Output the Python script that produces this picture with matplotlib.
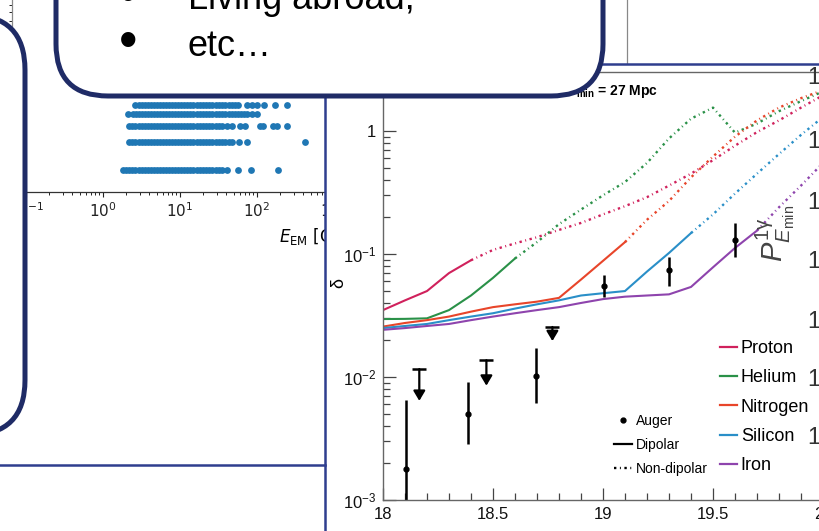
import matplotlib
matplotlib.use('Agg')
import matplotlib.pyplot as plt
from matplotlib.patches import FancyBboxPatch, Rectangle
from matplotlib.lines import Line2D
from matplotlib.ticker import MultipleLocator, FixedLocator, FixedFormatter, FormatStrFormatter, LogLocator, NullFormatter

plt.rcParams['font.family'] = ['Liberation Sans', 'DejaVu Sans']
plt.rcParams['mathtext.fontset'] = 'custom'
plt.rcParams['mathtext.rm'] = 'Liberation Sans'
plt.rcParams['mathtext.it'] = 'Liberation Sans:italic'
plt.rcParams['mathtext.bf'] = 'Liberation Sans:bold'
plt.rcParams['mathtext.default'] = 'regular'

W, H = 820, 531

# ---- anisotropy amplitude vs energy ----
lg_e = [18.0, 18.1, 18.2, 18.3, 18.4, 18.5, 18.6, 18.7, 18.8, 18.9, 19.0,
        19.1, 19.2, 19.3, 19.4, 19.5, 19.6, 19.7, 19.8, 19.9, 20.0]

species = ['Proton', 'Helium', 'Nitrogen', 'Silicon', 'Iron']
colors = ['#d0215c', '#2a9148', '#e8452a', '#2a8fc8', '#8e44ad']

delta_proton = [0.035, 0.042, 0.050, 0.070, 0.089, 0.108, 0.122, 0.137, 0.157, 0.179, 0.21,
                0.245, 0.29, 0.36, 0.45, 0.58, 0.76, 0.98, 1.22, 1.55, 1.95]
delta_helium = [0.0296, 0.0297, 0.030, 0.035, 0.046, 0.064, 0.092, 0.125, 0.175, 0.23, 0.30,
                0.385, 0.55, 0.87, 1.26, 1.55, 0.97, 1.15, 1.45, 1.75, 2.1]
delta_nitrogen = [0.0257, 0.0275, 0.029, 0.031, 0.034, 0.037, 0.039, 0.041, 0.044, 0.062, 0.088,
                  0.125, 0.19, 0.27, 0.42, 0.62, 0.90, 1.22, 1.55, 1.85, 2.15]
delta_silicon = [0.025, 0.026, 0.027, 0.029, 0.031, 0.033, 0.036, 0.039, 0.042, 0.046, 0.048,
                 0.050, 0.072, 0.102, 0.148, 0.21, 0.31, 0.45, 0.65, 0.93, 1.3]
delta_iron = [0.0242, 0.025, 0.026, 0.027, 0.029, 0.031, 0.033, 0.035, 0.037, 0.040, 0.043,
              0.045, 0.046, 0.047, 0.054, 0.078, 0.112, 0.155, 0.24, 0.36, 0.55]
# last energy where the dipolar (solid) description still holds
dipolar_max = [18.4, 18.6, 19.1, 19.4, 19.7]

auger_lg_e = [18.105, 18.387, 18.695, 19.005, 19.30, 19.60]
auger_delta = [0.0018, 0.0050, 0.0102, 0.055, 0.074, 0.13]
auger_hi = [0.0065, 0.0091, 0.0172, 0.067, 0.095, 0.179]
auger_lo = [0.0007, 0.00285, 0.0062, 0.045, 0.055, 0.095]

ul_lg_e = [18.165, 18.47, 18.77]
ul_delta = [0.0116, 0.0137, 0.0255]
ul_tip = [0.0064, 0.0085, 0.0196]

# ---- photon-energy scatter (GeV) per row ----
row1_e = [1.8, 2.0, 2.2, 2.4, 2.6, 2.9, 3.2, 3.5, 3.8, 4.2, 4.6, 5.0, 5.5, 6.0, 6.6, 7.2,
          7.9, 8.7, 9.5, 10.4, 11.4, 12.5, 13.7, 15, 16.5, 18, 20, 22, 24, 26, 29, 32, 35,
          41, 57, 84, 187]
row2_e = [2.2, 2.4, 2.6, 2.9, 3.2, 3.5, 3.8, 4.2, 4.6, 5.0, 5.5, 6.0, 6.6, 7.2, 7.9, 8.7,
          9.5, 10.4, 11.4, 12.5, 13.7, 15, 16.5, 18, 20, 22, 24, 26, 29, 32, 35, 39, 43, 47,
          58, 74, 420]
row3_e = [2.2, 2.4, 2.6, 2.9, 3.2, 3.5, 3.8, 4.2, 4.6, 5.0, 5.5, 6.0, 6.6, 7.2, 7.9, 8.7,
          9.5, 10.4, 11.4, 12.5, 13.7, 15, 16.5, 18, 20, 22, 24, 26, 29, 32, 35,
          41, 47, 60, 70, 110, 120, 162, 182, 245]
row4_e = [2.1, 2.45, 2.7, 2.9, 3.2, 3.5, 3.8, 4.2, 4.6, 5.0, 5.5, 6.0, 6.6, 7.2, 7.9, 8.7,
          9.5, 10.4, 11.4, 12.5, 13.7, 15, 16.5, 18, 20, 22, 24, 26, 29, 32, 35, 39, 43, 47,
          52, 57, 63, 68, 74, 86, 100]
row5_e = [2.6, 2.9, 3.2, 3.5, 3.8, 4.2, 4.6, 5.0, 5.5, 6.0, 6.6, 7.2, 7.9, 8.7, 9.5, 10.4,
          11.4, 12.5, 13.7, 15, 16.5, 18, 20, 22, 24, 26, 29, 32, 35, 39, 43, 47, 52, 56,
          74, 86, 100, 123, 170, 245]
scatter_rows = [row1_e, row2_e, row3_e, row4_e, row5_e]
row_levels = [1, 2, 3, 4, 5]

NONDIP = (0, (1.0, 1.5, 0.4, 1.5))
NAVY = '#1f2b66'
PANEL = '#2f3e8e'


def box(x0, y0, x1, y1):
    # pixel box (y measured from the top) -> figure fraction rect
    return [x0 / W, 1 - y1 / H, (x1 - x0) / W, (y1 - y0) / H]


fig = plt.figure(figsize=(W / 100, H / 100), dpi=100)

# scatter plot in the background
ax_s = fig.add_axes(box(12, -50, 627, 192), zorder=1)
for lvl, row in zip(row_levels, scatter_rows):
    ax_s.scatter(row, [lvl] * len(row), s=24, color='#1f77b4', linewidths=0)
ax_s.set_xscale('log')
ax_s.set_yscale('log')
ax_s.set_xlim(0.066, 6.4e6)
ax_s.set_ylim(0.58, 232)
ax_s.set_xlabel(r'$\mathit{E}_{\mathrm{EM}}$ [GeV]', fontsize=12,
                math_fontfamily='dejavusans', family='DejaVu Sans')
ax_s.tick_params(labelsize=11, colors='#222')
ax_s.tick_params(axis='y', labelleft=False)
for sp in ax_s.spines.values():
    sp.set_color('#888')
    sp.set_linewidth(0.9)
ax_s.spines['bottom'].set_color('#333')
for t in ax_s.get_xticklabels():
    t.set_math_fontfamily('dejavusans')
    t.set_family('DejaVu Sans')

# panel frames
ax_u = fig.add_axes([0, 0, 1, 1], zorder=2)
ax_u.set_xlim(0, W)
ax_u.set_ylim(H, 0)
ax_u.axis('off')
ax_u.add_patch(Rectangle((325, 64), 540, 520, facecolor='white', edgecolor=PANEL, lw=1.8))
ax_u.plot([-5, 325], [465, 465], color=PANEL, lw=1.8)
ax_u.text(566, 91, r'$\mathbf{D}_{\mathbf{min}}$ = 27 Mpc', fontsize=10, fontweight='bold',
          va='center', ha='left')

# main anisotropy plot
ax = fig.add_axes(box(383, 72, 823, 500), zorder=3)
ax.set_facecolor('none')
for name, c, d, brk in zip(species, colors,
                           [delta_proton, delta_helium, delta_nitrogen, delta_silicon, delta_iron],
                           dipolar_max):
    i = lg_e.index(brk)
    ax.plot(lg_e[:i + 1], d[:i + 1], color=c, lw=1.5)
    ax.plot(lg_e[i:], d[i:], color=c, lw=1.7, ls=NONDIP)

yerr = [[v - lo for v, lo in zip(auger_delta, auger_lo)],
        [hi - v for v, hi in zip(auger_delta, auger_hi)]]
ax.errorbar(auger_lg_e, auger_delta, yerr=yerr, fmt='o', color='k', ms=3.5,
            elinewidth=1.8, capsize=0)
for x, top, tip in zip(ul_lg_e, ul_delta, ul_tip):
    ax.annotate('', xy=(x, tip), xytext=(x, top),
                arrowprops=dict(arrowstyle='-|>,head_length=0.42,head_width=0.25', color='k',
                                lw=1.6, shrinkA=0, shrinkB=0, mutation_scale=14))
ax.plot(ul_lg_e, ul_delta, ls='none', marker='_', ms=10, mew=1.8, color='k')

ax.set_xlim(18, 20)
ax.set_yscale('log')
ax.set_ylim(1e-3, 3.02)
ax.xaxis.set_major_locator(MultipleLocator(0.5))
ax.xaxis.set_minor_locator(MultipleLocator(0.1))
ax.xaxis.set_major_formatter(FormatStrFormatter('%g'))
ax.yaxis.set_major_locator(FixedLocator([1e-3, 1e-2, 1e-1, 1]))
ax.yaxis.set_major_formatter(FixedFormatter([r'$10^{-3}$', r'$10^{-2}$', r'$10^{-1}$', '1']))
ax.yaxis.set_minor_locator(LogLocator(subs=[2, 3, 4, 5, 6, 7, 8, 9]))
ax.yaxis.set_minor_formatter(NullFormatter())
ax.tick_params(which='both', direction='in', colors='#444', labelcolor='#111',
               labelsize=12, pad=5, width=0.9)
ax.tick_params(which='major', length=9)
ax.tick_params(which='minor', length=5)
for sp in ax.spines.values():
    sp.set_color('#666')
    sp.set_linewidth(1.0)
ax.set_ylabel('δ', fontsize=13)
ax.yaxis.set_label_coords(-0.082, 0.507)

leg1 = ax.legend(handles=[Line2D([], [], ls='none', marker='o', ms=3.5, color='k'),
                          Line2D([], [], color='k', lw=1.6),
                          Line2D([], [], color='k', lw=1.7, ls=NONDIP)],
                 labels=['Auger', 'Dipolar', 'Non-dipolar'],
                 loc='upper left', bbox_to_anchor=(614 / W, 1 - 414 / H),
                 bbox_transform=fig.transFigure, frameon=False, fontsize=10,
                 borderpad=0, borderaxespad=0, handlelength=1.3, handletextpad=0.3,
                 labelspacing=0.72)
ax.add_artist(leg1)
ax.legend(handles=[Line2D([], [], color=c, lw=1.6) for c in colors], labels=species,
          loc='upper left', bbox_to_anchor=(720 / W, 1 - 340 / H),
          bbox_transform=fig.transFigure, frameon=False, fontsize=13,
          borderpad=0, borderaxespad=0, handlelength=0.95, handletextpad=0.2,
          labelspacing=0.68)

# overlays: callout bubbles and neighbouring labels
ax_o = fig.add_axes([0, 0, 1, 1], zorder=5)
ax_o.set_xlim(0, W)
ax_o.set_ylim(H, 0)
ax_o.axis('off')
ax_o.set_facecolor('none')
ax_o.add_patch(FancyBboxPatch((56, -200), 547, 296, boxstyle='round,pad=0,rounding_size=52',
                              facecolor='white', edgecolor=NAVY, lw=3.6))
ax_o.add_patch(FancyBboxPatch((-300, 15), 325, 420, boxstyle='round,pad=0,rounding_size=55',
                              facecolor='white', edgecolor=NAVY, lw=3.6))
ax_o.text(128, -2, '•', fontsize=38, ha='center', va='center')
ax_o.text(188, 9, 'Living abroad,', fontsize=26, va='baseline')
ax_o.text(128, 44, '•', fontsize=38, ha='center', va='center')
ax_o.text(188, 56, 'etc…', fontsize=26, va='baseline')

for y in [78, 142, 203, 262, 322, 380, 438]:
    ax_o.text(807, y, '1', fontsize=17, va='center', ha='left', color='#333')
ax_o.text(775, 233, r'$\mathit{P}^{1\gamma}_{\mathit{E}_{\mathrm{min}}}$', rotation=90,
          fontsize=21, ha='center', va='center', color='#444')

fig.savefig('out.png', dpi=100, facecolor='white')
